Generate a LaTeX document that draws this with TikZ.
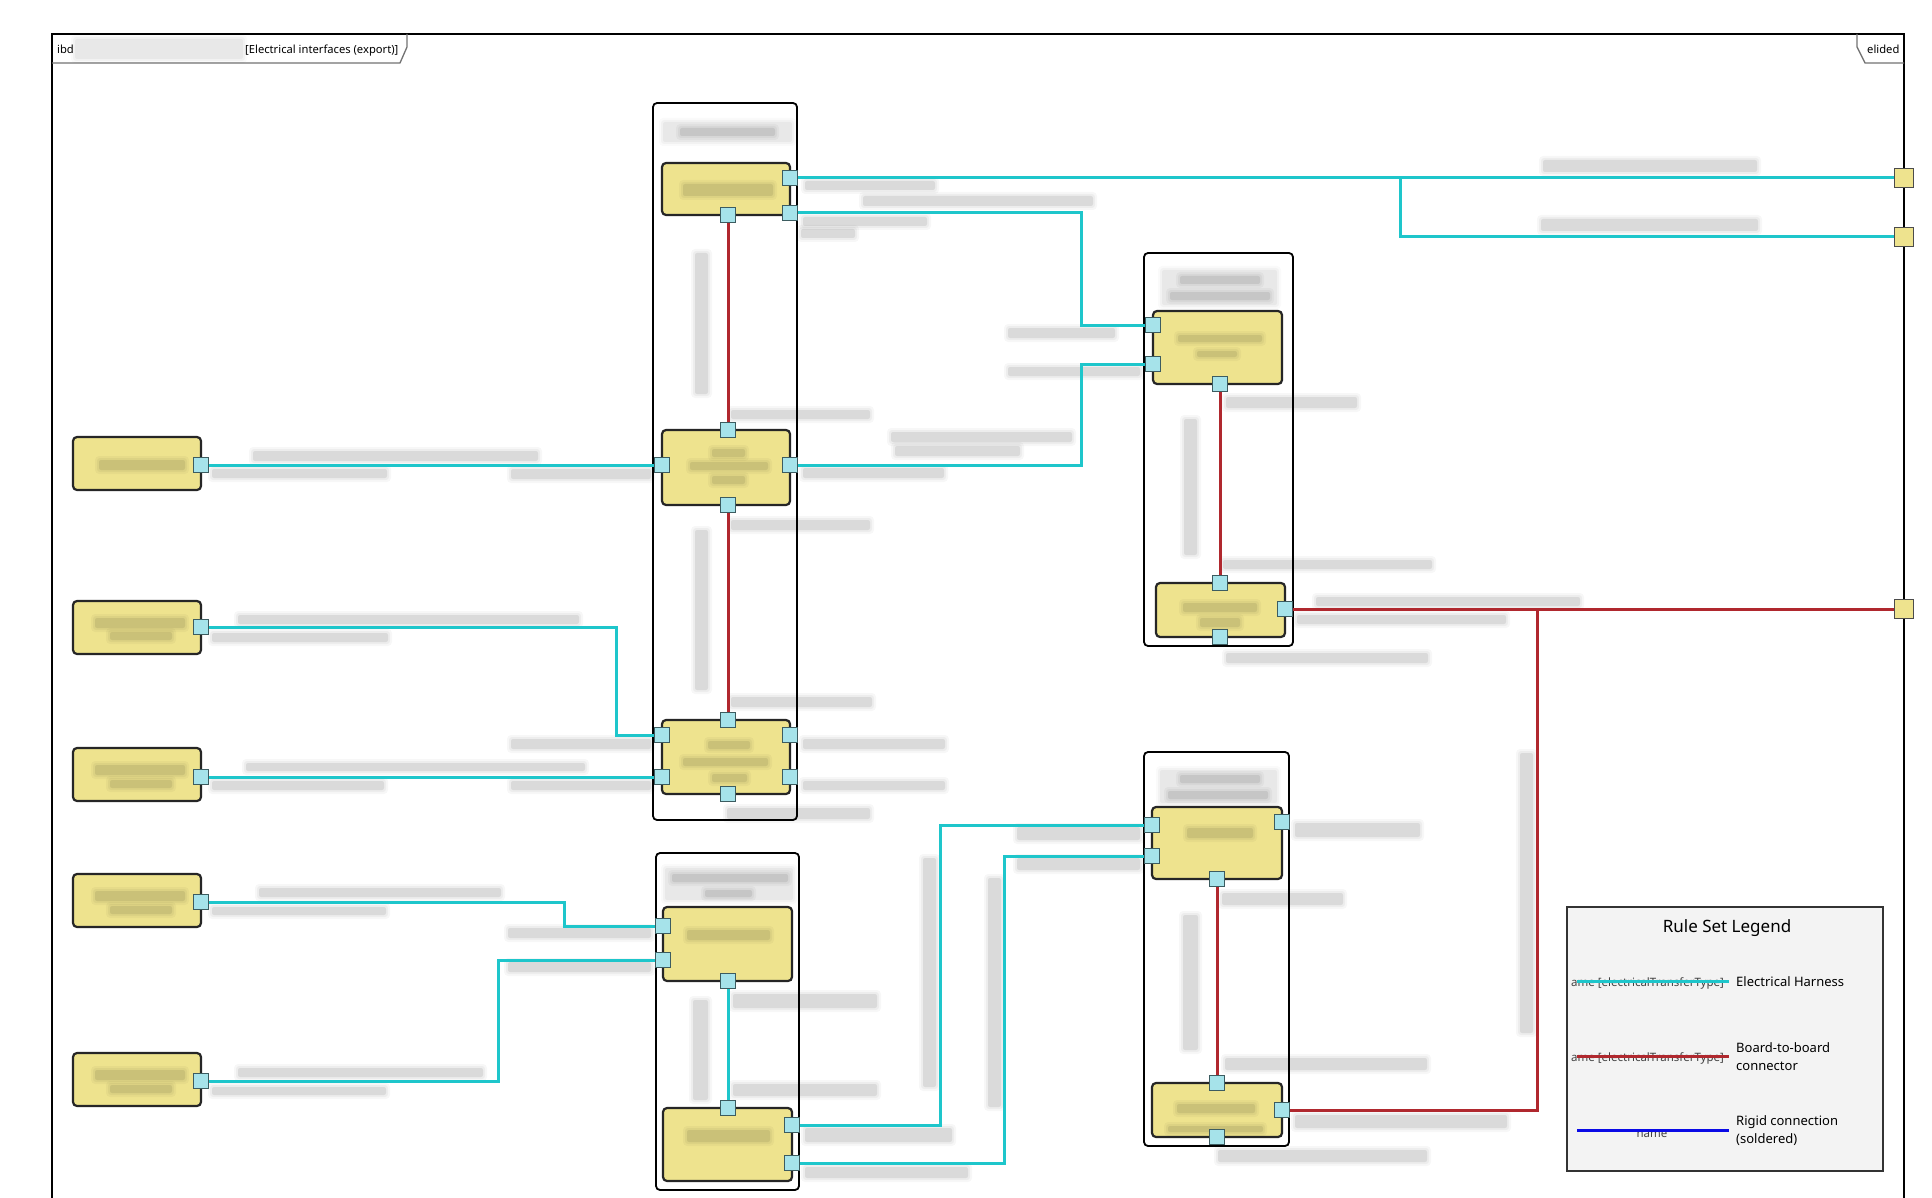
\documentclass[tikz,border=0pt]{standalone}
\usepackage{fontspec}
\setmainfont{Noto Sans}
\usetikzlibrary{fit}
\definecolor{blkfill}{HTML}{EEE38E}
\definecolor{portfill}{HTML}{A6E3EA}
\definecolor{portdraw}{HTML}{3C5C60}
\definecolor{harness}{HTML}{1EC6CB}
\definecolor{btob}{HTML}{B0282E}
\definecolor{rigid}{HTML}{0A0AE6}
\definecolor{legfill}{HTML}{F3F3F3}
\tikzset{
  blk/.style={draw=black!85, fill=blkfill, line width=2.2, rounded corners=4, inner sep=0},
  cont/.style={draw=black, fill=white, line width=1.8, rounded corners=4, inner sep=0},
  port/.style={draw=portdraw, fill=portfill, line width=1, minimum width=15, minimum height=15, inner sep=0},
  fport/.style={draw=black!70, fill=blkfill, line width=1, minimum width=19, minimum height=19, inner sep=0},
  harn/.style={draw=harness, line width=3},
  btb/.style={draw=btob, line width=3},
  rgd/.style={draw=rigid, line width=3},
  legbox/.style={draw=black!80, fill=legfill, line width=2, inner sep=0},
  tabline/.style={draw=black!55, line width=1.3},
  hdr/.style={font=\fontsize{11.2}{13}\selectfont, inner sep=0, anchor=base west},
  legtxt/.style={font=\fontsize{13}{18}\selectfont, inner sep=0, anchor=west, align=left},
  legsmall/.style={font=\fontsize{11.5}{13}\selectfont, inner sep=0, text=black!75},
}
\newcommand{\blurbar}[4]{%
  \fill[black, fill opacity=0.03, rounded corners=4] ({#1-4},{#2-4}) rectangle ({#3+4},{#4+4});
  \fill[black, fill opacity=0.04, rounded corners=3] ({#1-2},{#2-2}) rectangle ({#3+2},{#4+2});
  \fill[black, fill opacity=0.08, rounded corners=2] (#1,#2) rectangle (#3,#4);}
\newcommand{\blurfaint}[4]{%
  \fill[black, fill opacity=0.02, rounded corners=4] ({#1-4},{#2-4}) rectangle ({#3+4},{#4+4});
  \fill[black, fill opacity=0.03, rounded corners=3] ({#1-2},{#2-2}) rectangle ({#3+2},{#4+2});
  \fill[black, fill opacity=0.04, rounded corners=2] (#1,#2) rectangle (#3,#4);}
\begin{document}
\begin{tikzpicture}[x=1pt,y=-1pt]
\useasboundingbox (0,0) rectangle (1932,1198);
\fill[white] (0,0) rectangle (1932,1198);

% frame
\draw[line width=2] (52,1198) -- (52,34) -- (1904,34) -- (1904,1198);
\draw[tabline] (52,63) -- (400,63) -- (407,47) -- (407,34);
\draw[tabline] (1857,34) -- (1857,47) -- (1865,63) -- (1904,63);
\node[hdr] (ibd) at (57,54) {ibd};
\node[hdr] (title) at (245,54) {[Electrical interfaces (export)]};
\node[hdr] (elided) at (1867,54) {elided};
\blurfaint{75}{39}{243}{59}

% containers
\node[cont, fit={(653,103) (797,820)}] (C1) {};
\node[cont, fit={(656,853) (799,1190)}] (C2) {};
\node[cont, fit={(1144,253) (1293,646)}] (C3) {};
\node[cont, fit={(1144,752) (1289,1146)}] (C4) {};

% blurred labels (outside blocks)
\blurfaint{663}{122}{792}{142}
\blurbar{680}{128}{775}{136}
\blurbar{805}{181}{935}{190}
\blurbar{1543}{160}{1757}{172}
\blurbar{1541}{219}{1758}{231}
\blurbar{863}{196}{1093}{206}
\blurbar{803}{217}{927}{226}
\blurbar{801}{229}{855}{238}
\blurbar{1008}{328}{1115}{338}
\blurbar{1008}{367}{1140}{376}
\blurbar{1226}{397}{1357}{408}
\blurfaint{1162}{270}{1277}{305}
\blurbar{1180}{276}{1260}{284}
\blurbar{1170}{292}{1270}{300}
\blurbar{1184}{419}{1197}{555}
\blurbar{695}{253}{708}{394}
\blurbar{695}{530}{708}{690}
\blurbar{731}{410}{870}{419}
\blurbar{731}{520}{870}{530}
\blurbar{891}{432}{1072}{442}
\blurbar{895}{446}{1020}{456}
\blurbar{803}{468}{944}{478}
\blurbar{253}{451}{538}{461}
\blurbar{212}{469}{387}{478}
\blurbar{511}{469}{651}{479}
\blurbar{238}{615}{579}{624}
\blurbar{212}{633}{388}{642}
\blurbar{511}{739}{651}{749}
\blurbar{246}{763}{585}{771}
\blurbar{212}{781}{384}{790}
\blurbar{511}{781}{651}{790}
\blurbar{803}{739}{945}{749}
\blurbar{803}{781}{945}{790}
\blurbar{727}{808}{870}{819}
\blurbar{731}{697}{872}{707}
\blurbar{1316}{597}{1580}{606}
\blurbar{1297}{615}{1506}{624}
\blurbar{1223}{560}{1432}{569}
\blurbar{1226}{653}{1428}{663}
\blurbar{1520}{753}{1533}{1033}
\blurfaint{1160}{770}{1277}{803}
\blurbar{1180}{775}{1260}{783}
\blurbar{1168}{791}{1268}{799}
\blurbar{1295}{823}{1420}{837}
\blurbar{1222}{893}{1343}{905}
\blurbar{1225}{1058}{1427}{1070}
\blurbar{1295}{1115}{1507}{1128}
\blurbar{1218}{1150}{1427}{1162}
\blurbar{1183}{915}{1198}{1050}
\blurfaint{665}{868}{793}{900}
\blurbar{672}{874}{788}{882}
\blurbar{705}{890}{752}{897}
\blurbar{693}{1000}{708}{1100}
\blurbar{733}{994}{877}{1008}
\blurbar{733}{1084}{877}{1096}
\blurbar{805}{1128}{952}{1142}
\blurbar{805}{1167}{968}{1178}
\blurbar{923}{858}{936}{1087}
\blurbar{988}{878}{1001}{1107}
\blurbar{1017}{827}{1140}{840}
\blurbar{1017}{858}{1140}{870}
\blurbar{508}{928}{651}{938}
\blurbar{508}{962}{651}{972}
\blurbar{259}{888}{501}{897}
\blurbar{212}{907}{386}{915}
\blurbar{238}{1068}{483}{1077}
\blurbar{212}{1087}{386}{1095}

% blocks
\node[blk, fit={(662,163) (790,215)}] (A) {};
\node[blk, fit={(662,430) (790,505)}] (B) {};
\node[blk, fit={(662,720) (790,794)}] (C) {};
\node[blk, fit={(663,907) (792,981)}] (D) {};
\node[blk, fit={(663,1108) (792,1181)}] (E) {};
\node[blk, fit={(1153,311) (1282,384)}] (F) {};
\node[blk, fit={(1156,583) (1285,637)}] (G) {};
\node[blk, fit={(1152,807) (1282,879)}] (H) {};
\node[blk, fit={(1152,1083) (1282,1137)}] (I) {};
\node[blk, fit={(73,437) (201,490)}] (S1) {};
\node[blk, fit={(73,601) (201,654)}] (S2) {};
\node[blk, fit={(73,748) (201,801)}] (S3) {};
\node[blk, fit={(73,874) (201,927)}] (S4) {};
\node[blk, fit={(73,1053) (201,1106)}] (S5) {};

% blurred names inside blocks
\blurbar{683}{184}{773}{196}
\blurbar{712}{449}{745}{457}
\blurbar{690}{462}{768}{470}
\blurbar{712}{476}{745}{484}
\blurbar{708}{741}{750}{749}
\blurbar{683}{758}{768}{766}
\blurbar{712}{774}{747}{782}
\blurbar{687}{930}{770}{940}
\blurbar{687}{1130}{770}{1142}
\blurbar{1178}{335}{1262}{342}
\blurbar{1197}{351}{1237}{357}
\blurbar{1183}{603}{1257}{612}
\blurbar{1200}{618}{1240}{627}
\blurbar{1187}{828}{1253}{838}
\blurbar{1177}{1104}{1255}{1113}
\blurbar{1168}{1126}{1263}{1132}
\blurbar{99}{460}{185}{470}
\blurbar{95}{618}{185}{628}
\blurbar{110}{632}{172}{640}
\blurbar{95}{765}{185}{775}
\blurbar{110}{780}{172}{788}
\blurbar{95}{891}{185}{901}
\blurbar{110}{906}{172}{914}
\blurbar{95}{1070}{185}{1080}
\blurbar{110}{1085}{172}{1093}

% ports
\node[port] (Ar1) at (790,178) {};
\node[port] (Ar2) at (790,213) {};
\node[port] (Ab) at (728,215) {};
\node[port] (Bt) at (728,430) {};
\node[port] (Bl) at (662,465) {};
\node[port] (Br) at (790,465) {};
\node[port] (Bb) at (728,505) {};
\node[port] (Ct) at (728,720) {};
\node[port] (Cl1) at (662,735) {};
\node[port] (Cl2) at (662,777) {};
\node[port] (Cr1) at (790,735) {};
\node[port] (Cr2) at (790,777) {};
\node[port] (Cb) at (728,794) {};
\node[port] (Dl1) at (663,926) {};
\node[port] (Dl2) at (663,960) {};
\node[port] (Db) at (728,981) {};
\node[port] (Et) at (728,1108) {};
\node[port] (Er1) at (792,1125) {};
\node[port] (Er2) at (792,1163) {};
\node[port] (Fl1) at (1153,325) {};
\node[port] (Fl2) at (1153,364) {};
\node[port] (Fb) at (1220,384) {};
\node[port] (Gt) at (1220,583) {};
\node[port] (Gr) at (1285,609) {};
\node[port] (Gb) at (1220,637) {};
\node[port] (Hl1) at (1152,825) {};
\node[port] (Hl2) at (1152,856) {};
\node[port] (Hr) at (1282,822) {};
\node[port] (Hb) at (1217,879) {};
\node[port] (It) at (1217,1083) {};
\node[port] (Ir) at (1282,1110) {};
\node[port] (Ib) at (1217,1137) {};
\node[port] (S1p) at (201,465) {};
\node[port] (S2p) at (201,627) {};
\node[port] (S3p) at (201,777) {};
\node[port] (S4p) at (201,902) {};
\node[port] (S5p) at (201,1081) {};
\node[fport] (P1) at (1904,178) {};
\node[fport] (P2) at (1904,237) {};
\node[fport] (P3) at (1904,609) {};

\coordinate (brC) at (1400,178);
\coordinate (brR) at (1537,609);

% electrical harness connectors
\draw[harn] (Ar1.east) -- (P1.west);
\draw[harn] (brC) |- (P2.west);
\draw[harn] (Ar2.east) -| (1081,270) |- (Fl1.west);
\draw[harn] (Br.east) -| (1081,400) |- (Fl2.west);
\draw[harn] (S1p.east) -- (Bl.west);
\draw[harn] (S2p.east) -| (616,680) |- (Cl1.west);
\draw[harn] (S3p.east) -- (Cl2.west);
\draw[harn] (S4p.east) -| (564,915) |- (Dl1.west);
\draw[harn] (S5p.east) -| (498,1000) |- (Dl2.west);
\draw[harn] (Db) -- (Et);
\draw[harn] (Er1.east) -| (940,1000) |- (Hl1.west);
\draw[harn] (Er2.east) -| (1004,1000) |- (Hl2.west);

% board-to-board connectors
\draw[btb] (Ab) -- (Bt);
\draw[btb] (Bb) -- (Ct);
\draw[btb] (Fb) -- (Gt);
\draw[btb] (Hb) -- (It);
\draw[btb] (Gr.east) -- (P3.west);
\draw[btb] (Ir.east) -| (brR);

% legend
\node[legbox, fit={(1567,907) (1883,1171)}] (leg) {};
\node[font=\fontsize{17}{20}\selectfont, inner sep=0] (legt) at (1727,928) {Rule Set Legend};
\node[legsmall, anchor=west] (lt1) at (1571,983) {ame [electricalTransferType]};
\node[legsmall, anchor=west] (lt2) at (1571,1058) {ame [electricalTransferType]};
\node[legsmall] (lt3) at (1652,1134) {name};
\coordinate (l1a) at (1577,981); \coordinate (l1b) at (1729,981);
\coordinate (l2a) at (1577,1056); \coordinate (l2b) at (1729,1056);
\coordinate (l3a) at (1577,1130); \coordinate (l3b) at (1729,1130);
\draw[harn] (l1a) -- (l1b);
\draw[btb] (l2a) -- (l2b);
\draw[rgd] (l3a) -- (l3b);
\node[legtxt] (lg1) at (1736,982) {Electrical Harness};
\node[legtxt] (lg2) at (1736,1057) {Board-to-board\\connector};
\node[legtxt] (lg3) at (1736,1131) {Rigid connection\\(soldered)};
\end{tikzpicture}
\end{document}
